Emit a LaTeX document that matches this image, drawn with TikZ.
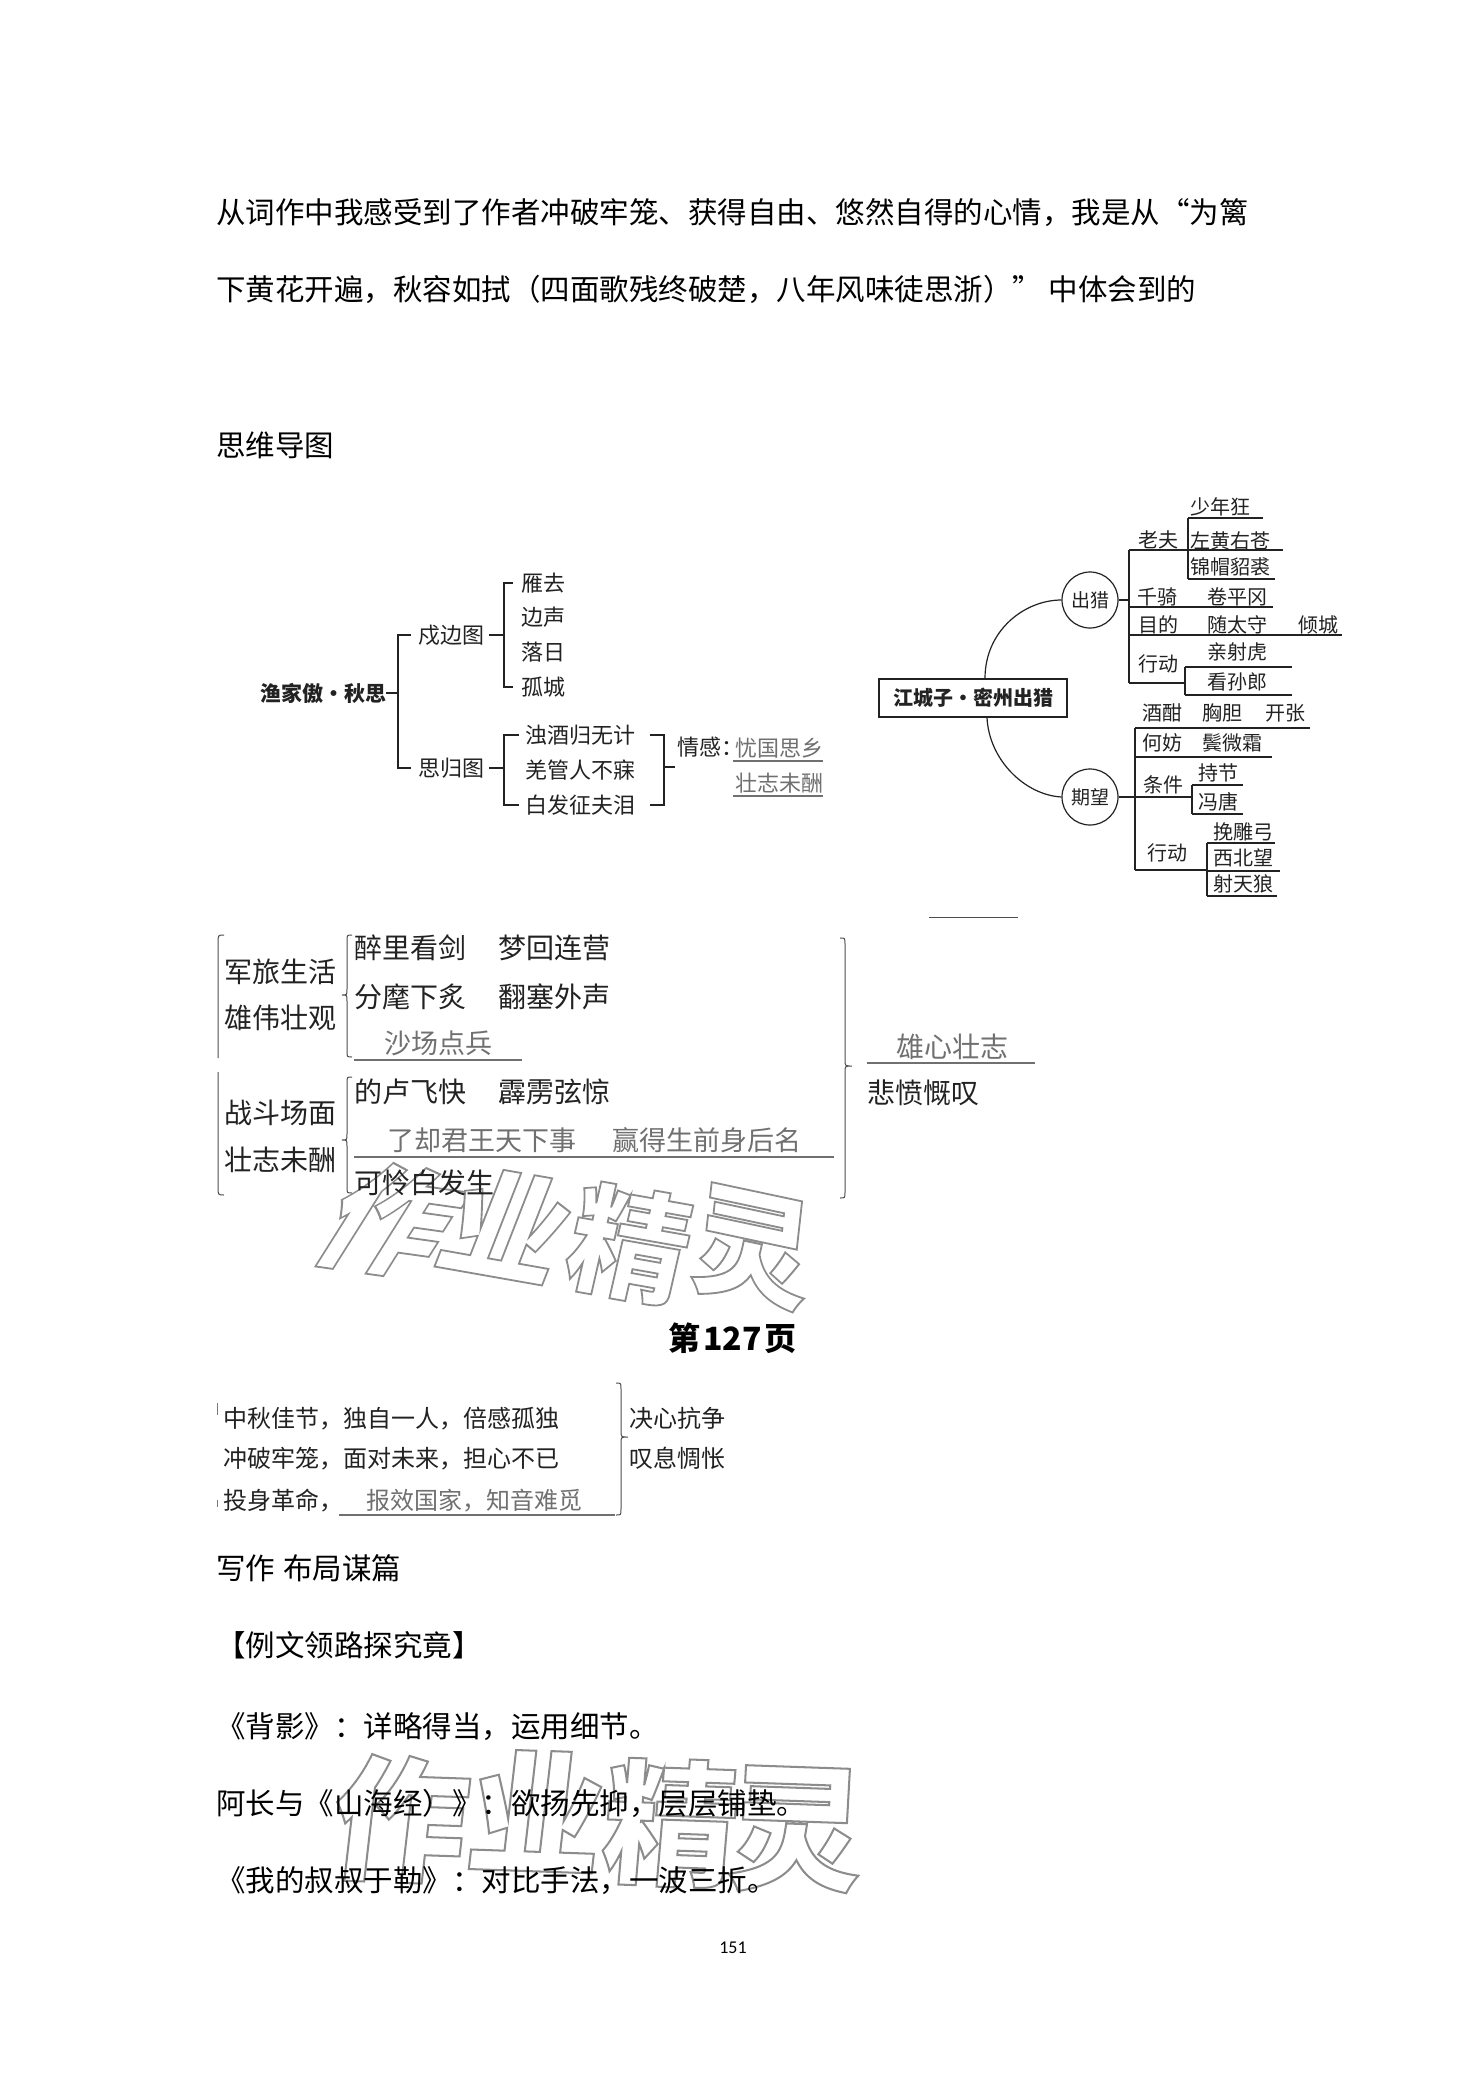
\documentclass[tikz,border=0pt]{standalone}
\usepackage{fontspec}
\setmainfont{Noto Sans CJK SC}
\newfontfamily\numfont{Carlito}
\newfontfamily\wmfont[FakeBold=1.5]{Noto Sans CJK SC}
\usetikzlibrary{calc}
\definecolor{ink}{HTML}{222222}
\definecolor{ans}{HTML}{707070}
\definecolor{wmline}{HTML}{8C8C8C}
\tikzset{
 body/.style={anchor=west, inner sep=0pt, font=\fontsize{29.5}{32}\selectfont, text=black, text height=24.5pt, text depth=2.1pt},
 d1/.style={anchor=west, inner sep=0pt, font=\fontsize{22}{24}\selectfont, text=ink, text height=18.3pt, text depth=1.5pt},
 d2/.style={anchor=west, inner sep=0pt, font=\fontsize{20}{22}\selectfont, text=ink, text height=16.6pt, text depth=1.4pt},
 d3/.style={anchor=west, inner sep=0pt, font=\fontsize{28}{30}\selectfont, text=ink, text height=23.2pt, text depth=2pt},
 d4/.style={anchor=west, inner sep=0pt, font=\fontsize{24}{26}\selectfont, text=ink, text height=20pt, text depth=1.7pt},
 ansnode/.style={text=ans},
 ln/.style={draw=ink, line width=1.2pt},
 thinln/.style={draw=ink!80, line width=1pt},
 ansln/.style={draw=ans, line width=1.2pt},
 wm/.style={inner sep=0pt, text=white, font=\wmfont\bfseries\fontsize{120}{120}\selectfont},
 circ/.style={circle, draw=ink, line width=1.2pt, minimum size=56pt, inner sep=0pt, font=\fontsize{19}{21}\selectfont, text=ink},
}
% outlined watermark glyph: white fill, grey stroke (fake-bold text mode)
\newcommand\wmchar[5]{%
 \node[wm,#4] (#1) at (#2,#3) {\special{pdf:code 0.55 0.55 0.55 RG}#5};}
% left-pointing brace: x, ytop, ytip, ybottom
\newcommand\lbr[4]{%
 \draw[thinln] ({#1+5},#2) .. controls (#1,#2) .. (#1,{#2+6}) -- (#1,{#3-6}) .. controls (#1,#3) .. ({#1-5},#3)
   .. controls (#1,#3) .. (#1,{#3+6}) -- (#1,{#4-6}) .. controls (#1,#4) .. ({#1+5},#4);}
% right-pointing brace
\newcommand\rbr[4]{%
 \draw[thinln] ({#1-5},#2) .. controls (#1,#2) .. (#1,{#2+6}) -- (#1,{#3-6}) .. controls (#1,#3) .. ({#1+7},#3)
   .. controls (#1,#3) .. (#1,{#3+6}) -- (#1,{#4-6}) .. controls (#1,#4) .. ({#1-5},#4);}
\begin{document}
\begin{tikzpicture}[x=1pt,y=-1pt]
\fill[white] (0,0) rectangle (1466,2079);
\useasboundingbox (0,0) rectangle (1466,2079);

% ---------- watermarks ----------
\wmchar{wa1}{392}{1220}{rotate=-8, xslant=0.45}{作}
\wmchar{wa2}{508}{1225}{rotate=-10, xslant=0.2}{业}
\wmchar{wa3}{630}{1244}{rotate=-10, xslant=0.05}{精}
\wmchar{wa4}{752}{1248}{rotate=-12, xslant=-0.1}{灵}
\wmchar{wb1}{401}{1819}{font=\wmfont\bfseries\fontsize{135}{135}\selectfont, rotate=-2, xslant=0.08}{作}
\wmchar{wb2}{537}{1811}{font=\wmfont\bfseries\fontsize{135}{135}\selectfont, rotate=-2, xslant=0.08}{业}
\wmchar{wb3}{671}{1823}{font=\wmfont\bfseries\fontsize{135}{135}\selectfont, rotate=-2, xslant=0.05}{精}
\wmchar{wb4}{796}{1830}{font=\wmfont\bfseries\fontsize{135}{135}\selectfont, rotate=-2, xslant=0.02}{灵}

% ---------- body text ----------
\node[body] (t1) at (216,212) {从词作中我感受到了作者冲破牢笼、获得自由、悠然自得的心情，我是从“为篱};
\node[body] (t2) at (216,289) {下黄花开遍，秋容如拭（四面歌残终破楚，八年风味徒思浙）” 中体会到的};
\node[body] (t3) at (216,445) {思维导图};

% ---------- diagram 1 ----------
\node[d1, font=\bfseries\fontsize{21}{23}\selectfont] (yj) at (260,693) {渔家傲·秋思};
\draw[ln] (yj.east) -- (398,693);
\draw[ln] (411,635) -- (398,635) -- (398,768) -- (411,768);
\node[d1] (sb) at (418,635) {戍边图};
\node[d1] (sg) at (418,768) {思归图};
\draw[ln] ([xshift=5pt]sb.east) -- (504,635);
\draw[ln] (513,583) -- (504,583) -- (504,687) -- (513,687);
\node[d1] (a1) at (521,583) {雁去};
\node[d1] (a2) at (521,617) {边声};
\node[d1] (a3) at (521,652) {落日};
\node[d1] (a4) at (521,687) {孤城};
\draw[ln] ([xshift=5pt]sg.east) -- (504,768);
\draw[ln] (519,735) -- (504,735) -- (504,805) -- (519,805);
\node[d1] (b1) at (525,735) {浊酒归无计};
\node[d1] (b2) at (525,770) {羌管人不寐};
\node[d1] (b3) at (525,805) {白发征夫泪};
\draw[ln] (650,735) -- (664,735) -- (664,805) -- (650,805);
\draw[ln] (664,767) -- (675,767);
\node[d1] (qg) at (677,747) {情感：};
\node[d1, ansnode] (q1) at (735,748) {忧国思乡};
\draw[ansln] (733,761) -- (823,761);
\node[d1, ansnode] (q2) at (735,783) {壮志未酬};
\draw[ansln] (733,796) -- (823,796);

% ---------- diagram 2 ----------
\node[draw=ink, line width=1.2pt, minimum width=188pt, minimum height=38pt, inner sep=0pt,
      font=\bfseries\fontsize{20}{22}\selectfont, text=ink] (jcz) at (973,698) {江城子·密州出猎};
\node[circ] (cl) at (1090,600) {出猎};
\node[circ] (qw) at (1090,797) {期望};
\draw[ln] ([xshift=12pt]jcz.north) .. controls (985,630) and (1025,600) .. (cl.west);
\draw[ln] ([xshift=14pt]jcz.south) .. controls (989,760) and (1025,795) .. (qw.west);
% 出猎 branch
\draw[ln] (cl.east) -- (1129,600);
\draw[ln] (1129,550) -- (1129,683);
\node[d2] (lf) at (1138,540) {老夫};
\draw[ln] (1129,550) -- (1188,550);
\draw[ln] (1188,518) -- (1188,579);
\node[d2] (c1) at (1190,507) {少年狂};
\draw[ln] (1188,518) -- (1263,518);
\node[d2] (c2) at (1190,541) {左黄右苍};
\draw[ln] (1188,550) -- (1283,550);
\node[d2] (c3) at (1190,567) {锦帽貂裘};
\draw[ln] (1188,579) -- (1275,579);
\node[d2] (qj) at (1137,597) {千骑};
\node[d2] (jp) at (1207,597) {卷平冈};
\draw[ln] (1129,607) -- (1273,607);
\node[d2] (md) at (1138,625) {目的};
\node[d2] (st) at (1207,625) {随太守};
\node[d2] (qc) at (1298,625) {倾城};
\draw[ln] (1129,635) -- (1342,635);
\node[d2] (xd1) at (1138,664) {行动};
\node[d2] (ss) at (1207,652) {亲射虎};
\draw[ln] (1185,667) -- (1292,667);
\draw[ln] (1129,683) -- (1185,683);
\draw[ln] (1185,667) -- (1185,695);
\node[d2] (ks) at (1207,682) {看孙郎};
\draw[ln] (1185,695) -- (1292,695);
% 期望 branch
\draw[ln] (qw.east) -- (1192,797);
\draw[ln] (1135,728) -- (1135,870);
\node[d2] (jh) at (1142,713) {酒酣};
\node[d2] (xd) at (1202,713) {胸胆};
\node[d2] (kz) at (1265,713) {开张};
\draw[ln] (1135,728) -- (1310,728);
\node[d2] (hf) at (1142,743) {何妨};
\node[d2] (bw) at (1202,743) {鬓微霜};
\draw[ln] (1135,757) -- (1272,757);
\node[d2] (tj) at (1143,785) {条件};
\draw[ln] (1192,785) -- (1192,814);
\node[d2] (cj) at (1198,773) {持节};
\draw[ln] (1192,785) -- (1243,785);
\node[d2] (ft) at (1198,802) {冯唐};
\draw[ln] (1192,814) -- (1243,814);
\node[d2] (xd2) at (1147,853) {行动};
\draw[ln] (1135,870) -- (1207,870);
\draw[ln] (1207,843) -- (1207,896);
\node[d2] (wd) at (1213,832) {挽雕弓};
\draw[ln] (1207,843) -- (1275,843);
\node[d2] (xb) at (1213,858) {西北望};
\draw[ln] (1207,871) -- (1280,871);
\node[d2] (st2) at (1213,884) {射天狼};
\draw[ln] (1207,896) -- (1277,896);

% ---------- diagram 3 ----------
\draw[thinln] (929,917) -- (1018,917);
\draw[thinln] (224,935) .. controls (218,935) .. (218,943) -- (218,1058);
\draw[thinln] (218,1072) -- (218,1187) .. controls (218,1195) .. (224,1195);
\node[d3] (j1) at (224,972) {军旅生活};
\node[d3] (j2) at (224,1018) {雄伟壮观};
\node[d3] (z1) at (224,1113) {战斗场面};
\node[d3] (z2) at (224,1160) {壮志未酬};
\lbr{347}{935}{995}{1057}
\lbr{347}{1077}{1140}{1193}
\node[d3] (e1) at (354,948) {醉里看剑};
\node[d3] (e2) at (498,948) {梦回连营};
\node[d3] (e3) at (354,997) {分麾下炙};
\node[d3] (e4) at (498,997) {翻塞外声};
\node[d3, ansnode, font=\fontsize{27}{29}\selectfont] (e5) at (384,1043) {沙场点兵};
\draw[ansln] (354,1060) -- (522,1060);
\node[d3] (f1) at (354,1092) {的卢飞快};
\node[d3] (f2) at (498,1092) {霹雳弦惊};
\node[d3, ansnode, font=\fontsize{27}{29}\selectfont] (f3) at (387,1140) {了却君王天下事};
\node[d3, ansnode, font=\fontsize{27}{29}\selectfont] (f4) at (612,1140) {赢得生前身后名};
\draw[ansln] (354,1157) -- (834,1157);
\node[d3] (f5) at (354,1183) {可怜白发生};
\rbr{845}{938}{1066}{1198}
\node[d3, ansnode] (g1) at (896,1047) {雄心壮志};
\draw[ansln] (867,1063) -- (1035,1063);
\node[d3] (g2) at (867,1093) {悲愤慨叹};

% ---------- page 127 ----------
\node[anchor=west, inner sep=0pt, font=\bfseries\fontsize{32}{34}\selectfont, text=black] (p127) at (668,1338) {第\hspace{3pt}127\hspace{3pt}页};
\draw[draw=ink!60, line width=1pt] (217,1403) -- (217,1415);
\draw[draw=ink!60, line width=1pt] (217,1500) -- (217,1507);
\node[d4] (h1) at (223,1418) {中秋佳节，独自一人，倍感孤独};
\node[d4] (h2) at (223,1458) {冲破牢笼，面对未来，担心不已};
\node[d4] (h3) at (223,1500) {投身革命，};
\node[d4, ansnode] (h4) at (366,1500) {报效国家，知音难觅};
\draw[ansln] (339,1515) -- (615,1515);
\rbr{621}{1383}{1437}{1515}
\node[d4] (k1) at (629,1418) {决心抗争};
\node[d4] (k2) at (629,1458) {叹息惆怅};

% ---------- writing section ----------
\node[body] (w1) at (216,1568) {写作\hspace{8pt}布局谋篇};
\node[body] (w2) at (216,1645) {【例文领路探究竟】};
\node[body] (w3) at (216,1726) {《背影》：详略得当，运用细节。};
\node[body] (w4) at (216,1803) {阿长与《山海经）》：欲扬先抑，层层铺垫。};
\node[body] (w5) at (216,1880) {《我的叔叔于勒》：对比手法，一波三折。};
\node[inner sep=0pt, font=\numfont\fontsize{18}{20}\selectfont, text=black] (pn) at (733,1948) {151};
\end{tikzpicture}
\end{document}
